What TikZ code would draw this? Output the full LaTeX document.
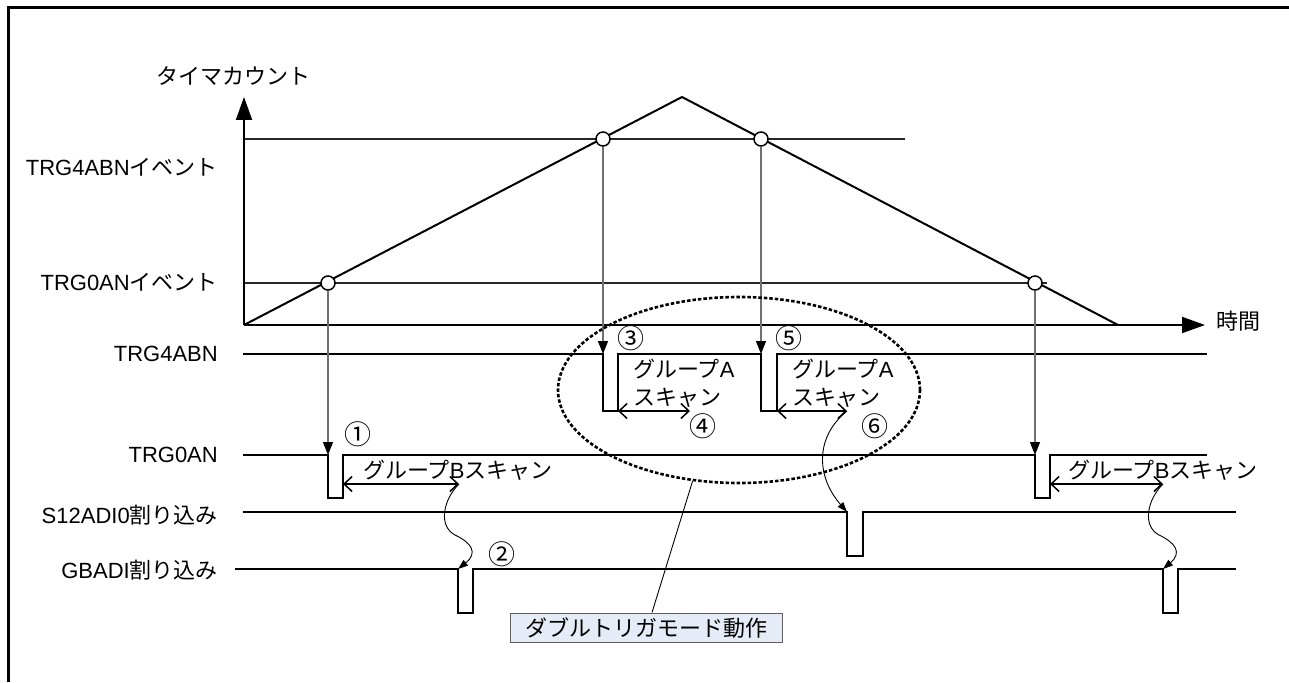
\documentclass[tikz,border=0pt]{standalone}
\usepackage{fontspec}
\setmainfont{Liberation Sans}
\newfontfamily\jpfont{Noto Sans CJK JP}
\newcommand{\jtxt}[1]{{\jpfont #1}}
\newcommand{\cnum}[1]{{\jpfont\fontsize{27}{29}\selectfont #1}}
\usetikzlibrary{arrows.meta,shapes.geometric}
\definecolor{dropgray}{HTML}{707070}
\definecolor{boxfill}{HTML}{E6ECF7}
\definecolor{boxline}{HTML}{606060}
\begin{document}
\begin{tikzpicture}[x=1pt,y=-1pt,
  font=\fontsize{22}{29}\selectfont,
  lbl/.style={inner sep=0pt, anchor=east},
  txt/.style={inner sep=0pt},
  rim/.style={line width=3pt},
  axisarrow/.style={line width=2pt, -{Triangle[length=23pt,width=16pt]}},
  evline/.style={line width=1.4pt, draw=black!85},
  ramp line/.style={line width=2pt, line join=round},
  sig/.style={line width=2pt, line join=miter},
  evc/.style={circle, draw, fill=white, line width=1.5pt, minimum size=14pt, inner sep=0pt},
  droparrow/.style={draw=dropgray, line width=1.2pt, -{Triangle[length=13pt,width=10pt,color=black]}},
  scanspan/.style={line width=1.5pt, {Straight Barb[length=8pt,width=15pt]}-{Straight Barb[length=8pt,width=15pt]}},
  wavy/.style={line width=0.9pt, -{Triangle[length=10pt,width=7pt]}},
  zone/.style={ellipse, draw, line width=2.6pt, dash pattern=on 3.5pt off 2pt, minimum width=362pt, minimum height=186pt, inner sep=0pt},
  leader/.style={line width=0.9pt},
  modebox/.style={draw=boxline, fill=boxfill, line width=1pt, minimum width=272pt, minimum height=29pt, inner sep=0pt}
]
\useasboundingbox (0,0) rectangle (1289,682);
\draw[rim] (8,682) -- (8,8) -- (1289,8);

% timer count chart
\coordinate (O) at (244,325);
\coordinate (ytop) at (244,97);
\coordinate (xend) at (1205,325);
\coordinate (peak) at (682,97);
\coordinate (zero) at (1118,325);
\coordinate (e4L) at (244,139);
\coordinate (e4R) at (905,139);
\coordinate (e0L) at (244,283);
\coordinate (e0R) at (1047,283);
\draw[evline] (e4L) -- (e4R);
\draw[evline] (e0L) -- (e0R);
\draw[axisarrow] (O) -- (ytop);
\draw[axisarrow] (O) -- (xend);
\draw[ramp line] (O) -- (peak) -- (zero);

\node[txt] (ylab) at (233,76) {\jtxt{タイマカウント}};
\node[txt] (xlab) at (1238,321) {\jtxt{時間}};
\node[lbl] (l4ev) at (218,167) {TRG4ABN\jtxt{イベント}};
\node[lbl] (l0ev) at (218,282) {TRG0AN\jtxt{イベント}};
\node[lbl] (l4) at (218,354) {TRG4ABN};
\node[lbl] (l0) at (218,455) {TRG0AN};
\node[lbl] (ls12) at (218,515) {S12ADI0\jtxt{割り込み}};
\node[lbl] (lgb) at (218,570) {GBADI\jtxt{割り込み}};

% signals
\coordinate (t4a) at (603,354);
\coordinate (t4b) at (761,354);
\coordinate (t0a) at (328,455);
\coordinate (t0b) at (1035,455);
\draw[sig] (243,354) -- (t4a) -- (603,411) -- (618,411) -- (618,354) -- (t4b) -- (761,411) -- (777,411) -- (777,354) -- (1207,354);
\draw[sig] (243,455) -- (t0a) -- (328,498) -- (343,498) -- (343,455) -- (t0b) -- (1035,498) -- (1050,498) -- (1050,455) -- (1207,455);
\coordinate (s12a) at (847,512);
\draw[sig] (243,512) -- (s12a) -- (847,556) -- (863,556) -- (863,512) -- (1236,512);
\coordinate (gba) at (458,569);
\coordinate (gbb) at (1163,569);
\draw[sig] (235,569) -- (gba) -- (458,613) -- (473,613) -- (473,569) -- (gbb) -- (1163,613) -- (1178,613) -- (1178,569) -- (1236,569);

% event circles and drops
\node[evc] (c1) at (328,283) {};
\node[evc] (c2) at (603,139) {};
\node[evc] (c3) at (761,139) {};
\node[evc] (c4) at (1035,283) {};
\draw[droparrow] (c1) -- (t0a);
\draw[droparrow] (c2) -- (t4a);
\draw[droparrow] (c3) -- (t4b);
\draw[droparrow] (c4) -- (t0b);

% scan spans
\coordinate (a1s) at (618,411); \coordinate (a1e) at (690,411);
\coordinate (a2s) at (777,411); \coordinate (a2e) at (847,411);
\coordinate (b1s) at (343,484); \coordinate (b1e) at (459,484);
\coordinate (b2s) at (1050,484); \coordinate (b2e) at (1163,484);
\draw[scanspan] (a1s) -- (a1e);
\draw[scanspan] (a2s) -- (a2e);
\draw[scanspan] (b1s) -- (b1e);
\draw[scanspan] (b2s) -- (b2e);

\node[txt, anchor=west] (ga1a) at (633,369) {\jtxt{グループ}A};
\node[txt, anchor=west] (ga1b) at (633,398) {\jtxt{スキャン}};
\node[txt, anchor=west] (ga2a) at (792,369) {\jtxt{グループ}A};
\node[txt, anchor=west] (ga2b) at (792,398) {\jtxt{スキャン}};
\node[txt, anchor=west] (gb1) at (363,470) {\jtxt{グループ}B\jtxt{スキャン}};
\node[txt, anchor=west] (gb2) at (1068,470) {\jtxt{グループ}B\jtxt{スキャン}};

% interrupt cause arrows
\draw[wavy] (b1e) .. controls (443,500) and (438,526) .. (455,535) .. controls (472,543) and (478,553) .. (gba);
\draw[wavy] (a2e) .. controls (816,436) and (815,475) .. (s12a);
\draw[wavy] (b2e) .. controls (1147,500) and (1142,526) .. (1159,535) .. controls (1176,543) and (1182,553) .. (gbb);

% circled numbers
\node[txt] (n1) at (358,434) {\cnum{①}};
\node[txt] (n2) at (502,554) {\cnum{②}};
\node[txt] (n3) at (631,338) {\cnum{③}};
\node[txt] (n4) at (703,426) {\cnum{④}};
\node[txt] (n5) at (789,338) {\cnum{⑤}};
\node[txt] (n6) at (875,426) {\cnum{⑥}};

% double trigger zone
\node[zone] (dbl) at (739,390) {};
\node[modebox] (mode) at (646,627.5) {\jtxt{ダブルトリガモード動作}};
\draw[leader] (dbl.243) -- ([xshift=6pt]mode.north);
\end{tikzpicture}
\end{document}
